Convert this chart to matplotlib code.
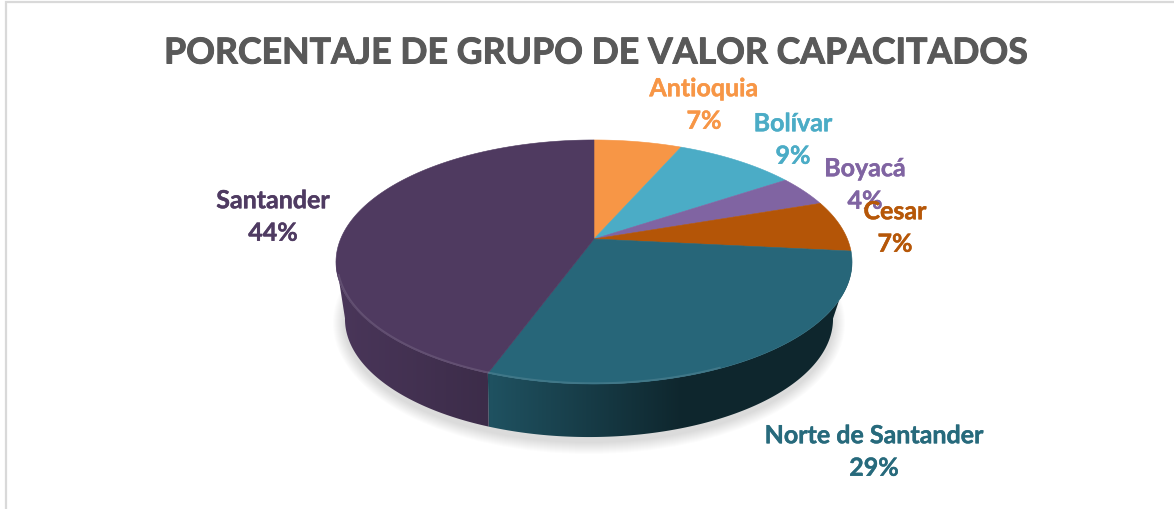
import numpy as np
import matplotlib
matplotlib.use("Agg")
import matplotlib.pyplot as plt
import matplotlib.patheffects as pe
from matplotlib.patches import Ellipse, Polygon

plt.rcParams['font.family'] = ['Lato', 'DejaVu Sans']

titulo = "PORCENTAJE DE GRUPO DE VALOR CAPACITADOS"
regiones = ["Antioquia", "Bolívar", "Boyacá", "Cesar", "Norte de Santander", "Santander"]
porcentajes = [6.6, 9.1, 4.1, 6.8, 29.0, 44.4]
colores = ["#f79646", "#4bacc6", "#8064a2", "#b45507", "#276679", "#4f3a60"]
colores_texto = ["#f79646", "#4bacc6", "#8064a2", "#b65708", "#276a7c", "#4f3b62"]

# label centres in pixels, placed by hand like in the original
pos_etiquetas = [(704, 106), (793, 141), (865, 186), (895, 229), (874, 453), (273, 218)]

# perspective of the disc: centre, half axes and tilt
cx, cy = 594, 240
rx, h, a = 253.4, 117.7, 0.1885


def disco(theta, r=1.0):
    # theta measured clockwise from the top of the pie
    u = r * np.sin(theta)
    v = r * np.cos(theta)
    w = 1 + a * v
    return cx + rx * u / w, cy - h * v / w


def base(x, y):
    # same point on the lower rim
    return 589 + (244 / 258) * (x - 594), 320 + (118 / 122) * (y - 263)


def tono(xm):
    # how dark the wall gets from left to right
    if xm < 490:
        return 0.93 - 0.17 * (xm - 340) / 150
    return 0.8 - 0.42 * min((xm - 490) / 190, 1)


fig = plt.figure(figsize=(11.74, 5.10), dpi=100)
ax = fig.add_axes([0, 0, 1, 1])

# chart frame, only top and left are visible
ax.plot([6, 6, 1174], [510, 3, 3], color="#d9d9d9", linewidth=1.6, solid_joinstyle="miter")

# soft shadow under the pie
for i in range(12):
    ax.add_patch(Ellipse((589, 324), 2 * 244 + 24 - 2 * i, 2 * 118 + 26 - 2 * i,
                         facecolor="black", edgecolor="none", alpha=0.012, zorder=1))

bordes = 2 * np.pi * np.cumsum([0] + porcentajes) / sum(porcentajes)

# side wall, a horizontal gradient clipped to the front part of each slice
xs = np.arange(330, 860)
for i in range(len(regiones)):
    t = np.linspace(bordes[i], bordes[i + 1], 300)
    x, y = disco(t)
    delante = y >= 262
    if not delante.any():
        continue
    x, y = x[delante], y[delante]
    xb, yb = base(x, y)
    muro = Polygon(np.c_[np.r_[x, xb[::-1]], np.r_[y, yb[::-1]]], closed=True,
                   facecolor="none", edgecolor="none", transform=ax.transData)
    ax.add_patch(muro)
    rgb = np.array(matplotlib.colors.to_rgb(colores[i]))
    grad = np.array([[rgb * tono(v) for v in xs]])
    im = ax.imshow(grad, extent=(330, 860, 450, 130), aspect="auto", zorder=2, interpolation="bilinear")
    im.set_clip_path(muro)

# top face
for i in range(len(regiones)):
    t = np.linspace(bordes[i], bordes[i + 1], 120)
    x, y = disco(t)
    ax.fill(np.r_[cx, x], np.r_[cy, y], color=colores[i], linewidth=0.4, zorder=3)

# bevel along the front of the rim
for i in [4, 5]:
    t = np.linspace(bordes[i], bordes[i + 1], 200)
    x, y = disco(t, 0.995)
    mask = (y > 275) & (x < 720)
    luz = np.array(matplotlib.colors.to_rgb(colores[i])) * 0.75 + 0.25
    ax.plot(x[mask], y[mask], color=luz, linewidth=1.2, alpha=0.45, zorder=4)

for nombre, valor, color, (px, py) in zip(regiones, porcentajes, colores_texto, pos_etiquetas):
    ax.text(px, py, f"{nombre}\n{round(valor)}%", color=color, fontsize=18, fontweight="bold",
            ha="center", va="center", linespacing=1.5, zorder=5,
            path_effects=[pe.withStroke(linewidth=0.3, foreground=color)])

ax.text(595, 54, titulo, color="#595959", fontsize=25.7, fontweight="bold", ha="center", va="center",
        path_effects=[pe.withStroke(linewidth=0.7, foreground="#595959")])

ax.set_xlim(0, 1174)
ax.set_ylim(510, 0)
ax.axis("off")

fig.savefig("out.png", dpi=100)
